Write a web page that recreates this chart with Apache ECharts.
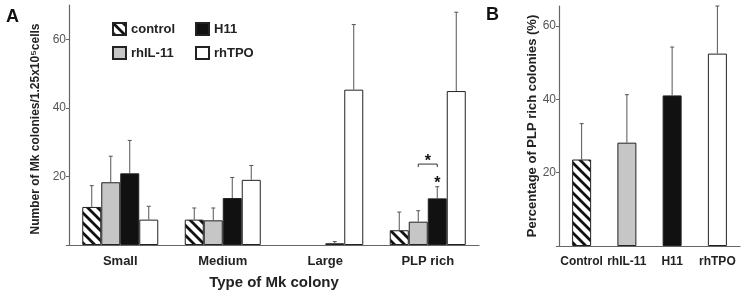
<!DOCTYPE html>
<html>
<head>
<meta charset="utf-8"/>
<title>Mk colonies</title>
<script src="https://cdn.jsdelivr.net/npm/echarts@6/dist/echarts.min.js"></script>
<style>
	body{margin:0;padding:0;background:#fff;}
	#chart{width:745px;height:292px;}
</style>
</head>
<body>
<div id="chart"></div>
<script>
	// panel A data
	var colonyTypes = ['Small', 'Medium', 'Large', 'PLP rich'];
	var controlVal = [11.1, 7.4, 0, 4.3];
	var controlErr = [6.2, 3.4, 0, 5.3];
	var il11Val = [18.3, 7.2, 0, 6.8];
	var il11Err = [7.6, 3.6, 0, 3.2];
	var h11Val = [20.9, 13.7, 0.5, 13.6];
	var h11Err = [9.6, 6.0, 0.5, 3.4];
	var tpoVal = [7.4, 19.0, 45.3, 44.9];
	var tpoErr = [3.9, 4.2, 19.0, 23.0];
	// significance marks in panel A (category, value, shift in bar widths)
	var sigBracket = [3, 23.6];
	var sigStars = [[3, 24.3, 0], [3, 17.8, 0.5]];

	// panel B data
	var groupsB = ['Control', 'rhIL-11', 'H11', 'rhTPO'];
	var plpVal = [23.6, 28.2, 41.1, 52.5];
	var plpErr = [9.8, 13.1, 13.2, 13.0];

	var font = 'Liberation Sans, Arial, sans-serif';
	var barW = 19;

	// 斜线填充
	function hatch(){
		var s = 10;
		var c = document.createElement('canvas');
		c.width = s; c.height = s;
		var g = c.getContext('2d');
		g.fillStyle = '#fff';
		g.fillRect(0, 0, s, s);
		g.strokeStyle = '#111';
		g.lineWidth = 2.8;
		g.beginPath();
		for(var k=-s;k<=s;k+=s){
			g.moveTo(k-1, -1);
			g.lineTo(k+s+1, s+1);
		}
		g.stroke();
		return {image: c, repeat: 'repeat'};
	}
	var hatchFill = hatch();
	var fills = [hatchFill, '#c6c6c6', '#111111', '#ffffff'];
	var names = ['control', 'rhIL-11', 'H11', 'rhTPO'];
	var valsA = [controlVal, il11Val, h11Val, tpoVal];
	var errsA = [controlErr, il11Err, h11Err, tpoErr];

	// 误差线
	function errRender(offset){
		return function(params, api){
			var e = api.value(2);
			if(!e){ return; }
			var p0 = api.coord([api.value(0), api.value(1)]);
			var p1 = api.coord([api.value(0), api.value(1) + e]);
			var x = p0[0] + offset;
			return {
				type: 'group',
				children: [
					{type: 'line', shape: {x1: x, y1: p0[1], x2: x, y2: p1[1]}, style: {stroke: '#555', lineWidth: 1}},
					{type: 'line', shape: {x1: x - 2, y1: p1[1], x2: x + 2, y2: p1[1]}, style: {stroke: '#555', lineWidth: 1}}
				]
			};
		};
	}

	var series = [];
	for(var i=0;i<4;i++){
		series.push({
			name: names[i],
			type: 'bar',
			xAxisIndex: 0,
			yAxisIndex: 0,
			barWidth: barW,
			barGap: '0%',
			itemStyle: {color: fills[i], borderColor: '#222', borderWidth: 1},
			emphasis: {disabled: true},
			// 0 值不画柱
			data: valsA[i].map(function(v){ return v === 0 ? '-' : v; })
		});
	}
	for(var i=0;i<4;i++){
		var d = [];
		for(var j=0;j<colonyTypes.length;j++){
			d.push([j, valsA[i][j], errsA[i][j]]);
		}
		series.push({
			type: 'custom',
			xAxisIndex: 0,
			yAxisIndex: 0,
			z: 5,
			renderItem: errRender((i - 1.5) * barW),
			data: d
		});
	}
	// 显著性标记
	series.push({
		type: 'custom',
		xAxisIndex: 0,
		yAxisIndex: 0,
		z: 6,
		renderItem: function(params, api){
			var p = api.coord([api.value(0), api.value(1)]);
			var x1 = p[0] - 0.5 * barW, x2 = p[0] + 0.5 * barW;
			return {
				type: 'polyline',
				shape: {points: [[x1, p[1] + 3], [x1, p[1]], [x2, p[1]], [x2, p[1] + 3]]},
				style: {stroke: '#333', lineWidth: 1, fill: null}
			};
		},
		data: [sigBracket]
	});
	series.push({
		type: 'custom',
		xAxisIndex: 0,
		yAxisIndex: 0,
		z: 6,
		renderItem: function(params, api){
			var p = api.coord([api.value(0), api.value(1)]);
			return {
				type: 'text',
				x: p[0] + api.value(2) * barW,
				y: p[1],
				style: {text: '*', font: 'bold 16px ' + font, fill: '#111', align: 'center', verticalAlign: 'middle'}
			};
		},
		data: sigStars
	});
	// panel B
	series.push({
		type: 'bar',
		xAxisIndex: 1,
		yAxisIndex: 1,
		barWidth: barW,
		emphasis: {disabled: true},
		data: plpVal.map(function(v, k){
			return {value: v, itemStyle: {color: fills[k], borderColor: '#222', borderWidth: 1}};
		})
	});
	series.push({
		type: 'custom',
		xAxisIndex: 1,
		yAxisIndex: 1,
		z: 5,
		renderItem: errRender(0),
		data: plpVal.map(function(v, k){ return [k, v, plpErr[k]]; })
	});

	function yAxisCfg(grid, max, name, gap, fs, pad){
		return {
			type: 'value',
			gridIndex: grid,
			min: 0,
			max: max,
			name: name,
			nameLocation: 'middle',
			nameGap: gap,
			nameTextStyle: {fontFamily: font, fontWeight: 'bold', fontSize: fs, color: '#222', padding: pad},
			axisLine: {show: true, lineStyle: {color: '#666', width: 1.2}},
			axisTick: {show: true, length: 3, customValues: [0, 20, 40, 60], lineStyle: {color: '#666'}},
			axisLabel: {customValues: [20, 40, 60], margin: 3, fontFamily: font, fontSize: 12, color: '#555'},
			splitLine: {show: false}
		};
	}
	function xAxisCfg(grid, cats, name, fs){
		return {
			type: 'category',
			gridIndex: grid,
			data: cats,
			name: name,
			nameLocation: 'middle',
			nameGap: 30,
			nameTextStyle: {fontFamily: font, fontWeight: 'bold', fontSize: 15, color: '#222'},
			axisLine: {lineStyle: {color: '#666', width: 1.2}},
			axisTick: {length: 4, lineStyle: {color: '#666'}},
			axisLabel: {margin: 10, fontFamily: font, fontWeight: 'bold', fontSize: fs, color: '#222', interval: 0}
		};
	}

	var legendBase = {
		orient: 'vertical',
		top: 17,
		itemWidth: 13,
		itemHeight: 12,
		itemGap: 10,
		icon: 'rect',
		selectedMode: false,
		textStyle: {fontFamily: font, fontWeight: 'bold', fontSize: 13, color: '#222'}
	};

	var option = {
		animation: false,
		backgroundColor: '#fff',
		grid: [
			{left: 69, top: 5, right: 266, bottom: 47, outerBoundsMode: 'none'},
			{left: 559, top: 6, right: 5, bottom: 46, outerBoundsMode: 'none'}
		],
		xAxis: [
			xAxisCfg(0, colonyTypes, 'Type of Mk colony', 13),
			xAxisCfg(1, groupsB, '', 12)
		],
		yAxis: [
			yAxisCfg(0, 70, 'Number of Mk colonies/1.25x10\u2075cells', 14, 12, [0, 8, 0, 0]),
			yAxisCfg(1, 65.5, 'Percentage of PLP rich colonies (%)', 20, 13, 0)
		],
		legend: [
			Object.assign({}, legendBase, {left: 107, data: ['control', 'rhIL-11']}),
			Object.assign({}, legendBase, {left: 190, data: ['H11', 'rhTPO']})
		],
		graphic: [
			{type: 'text', left: 6, top: 8, style: {text: 'A', font: 'bold 18px ' + font, fill: '#111'}},
			{type: 'text', left: 486, top: 6, style: {text: 'B', font: 'bold 18px ' + font, fill: '#111'}}
		],
		series: series
	};

	var chart = echarts.init(document.getElementById('chart'));
	chart.setOption(option);
</script>
</body>
</html>
